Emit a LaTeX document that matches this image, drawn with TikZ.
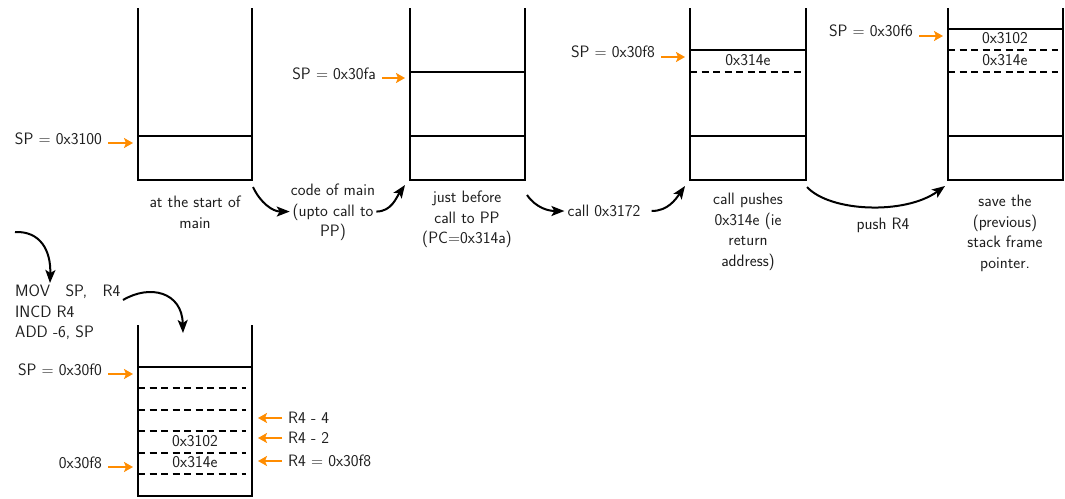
\documentclass[tikz,border=0pt]{standalone}
\usetikzlibrary{arrows.meta}
\definecolor{ptrorange}{RGB}{255,140,0}
\definecolor{ink}{RGB}{30,30,30}
\begin{document}
\begin{tikzpicture}[x=1pt,y=-1pt,
  font=\sffamily\fontsize{16.5}{20.5}\selectfont,
  wall/.style={line width=2pt,line join=miter},
  cell/.style={line width=1.8pt},
  slot/.style={line width=1.8pt,dash pattern=on 7pt off 4.5pt},
  lbl/.style={text=ink,inner sep=0pt},
  captext/.style={text=ink,inner sep=0pt,align=center,anchor=north},
  ptr/.style={draw=ptrorange,line width=2.8pt,-{Stealth[length=9pt,width=10pt,inset=2pt]}},
  flow/.style={draw=black,line width=2pt,-{Stealth[length=13pt,width=10pt,inset=3pt]}}]
\useasboundingbox (0,0) rectangle (1065,498);

% ---- stack 1: start of main
\draw[wall] (138,8) -- (138,180) -- (252,180) -- (252,8);
\draw[cell] (138,136) -- (252,136);
\node[lbl,anchor=east] (sp1) at (102,139) {SP = 0x3100};
\coordinate (sp1t) at (133,143);
\draw[ptr] ([shift={(6,4)}]sp1.east) -- (sp1t);
\node[captext] (c1) at (195,196) {at the start of\\main};

% ---- stack 2: just before call
\draw[wall] (410,8) -- (410,180) -- (525,180) -- (525,8);
\draw[cell] (410,72) -- (525,72);
\draw[cell] (410,136) -- (525,136);
\node[lbl,anchor=east] (sp2) at (376,74) {SP = 0x30fa};
\coordinate (sp2t) at (405,78);
\draw[ptr] ([shift={(6,4)}]sp2.east) -- (sp2t);
\node[captext] (c2) at (467,191) {just before\\call to PP\\(PC=0x314a)};

% ---- stack 3: after call
\draw[wall] (690,8) -- (690,180) -- (806,180) -- (806,8);
\draw[cell] (690,50) -- (806,50);
\draw[slot] (690,72) -- (801,72);
\draw[cell] (690,136) -- (806,136);
\node[lbl] (v31) at (748,60) {0x314e};
\node[lbl,anchor=east] (sp3) at (655,52) {SP = 0x30f8};
\coordinate (sp3t) at (685,57);
\draw[ptr] ([shift={(6,5)}]sp3.east) -- (sp3t);
\node[captext] (c3) at (748,193) {call pushes\\0x314e (ie\\return\\address)};

% ---- stack 4: after push R4
\draw[wall] (948,8) -- (948,180) -- (1063,180) -- (1063,8);
\draw[cell] (948,29) -- (1063,29);
\draw[slot] (948,50) -- (1058,50);
\draw[slot] (948,72) -- (1058,72);
\draw[cell] (948,136) -- (1063,136);
\node[lbl] (v41) at (1005,38) {0x3102};
\node[lbl] (v42) at (1005,60) {0x314e};
\node[lbl,anchor=east] (sp4) at (913,31) {SP = 0x30f6};
\coordinate (sp4t) at (943,36);
\draw[ptr] ([shift={(6,5)}]sp4.east) -- (sp4t);
\node[captext] (c4) at (1005,195) {save the\\(previous)\\stack frame\\pointer.};

% ---- transitions between stacks
\node[captext,inner sep=1pt] (t1) at (333,183) {code of main\\(upto call to\\PP)};
\coordinate (t1a) at (253,187);
\coordinate (t1b) at (405,185);
\draw[flow] (t1a) to[out=-65,in=180] ([yshift=1pt]t1.west);
\draw[flow] ([yshift=1pt]t1.east) to[out=0,in=-125] (t1b);

\node[lbl,inner sep=3pt] (t2) at (604,211) {call 0x3172};
\coordinate (t2a) at (527,195);
\coordinate (t2b) at (685,186);
\draw[flow] (t2a) to[out=-55,in=180] (t2.west);
\draw[flow] ([xshift=8pt]t2.east) to[out=0,in=-125] (t2b);

\coordinate (t3a) at (807,187);
\coordinate (t3b) at (945,186);
\draw[flow] (t3a) .. controls (830,212) and (905,215) .. (t3b);
\node[lbl] (t3) at (883,225) {push R4};

% ---- prologue of PP
\coordinate (p0) at (15,232);
\node[lbl,anchor=north west,align=left] (code) at (15,285)
  {MOV\ \ \ SP,\ \ \ R4\\INCD R4\\ADD -6, SP};
\coordinate (p1) at (50,283);
\draw[flow] (p0) .. controls (40,231) and (51,250) .. (p1);
\coordinate (p2) at (123,300);
\coordinate (p3) at (183,333);
\draw[flow] (p2) .. controls (150,284) and (182,292) .. (p3);

% ---- stack 5: PP frame
\draw[wall] (138,325) -- (138,496) -- (252,496) -- (252,325);
\draw[cell] (138,367) -- (252,367);
\foreach \yy in {388,410,431,453,474}
  \draw[slot] (138,\yy) -- (246,\yy);
\node[lbl] (v51) at (195,441) {0x3102};
\node[lbl] (v52) at (195,462) {0x314e};
\node[lbl,anchor=east] (sp5) at (102,370) {SP = 0x30f0};
\coordinate (sp5t) at (133,374);
\draw[ptr] ([shift={(6,4)}]sp5.east) -- (sp5t);
\node[lbl,anchor=east] (f5) at (102,463) {0x30f8};
\coordinate (f5t) at (133,467);
\draw[ptr] ([shift={(6,4)}]f5.east) -- (f5t);

\node[lbl,anchor=west] (r4a) at (288,418) {R4 - 4};
\node[lbl,anchor=west] (r4b) at (288,438) {R4 - 2};
\node[lbl,anchor=west] (r4c) at (288,461) {R4 = 0x30f8};
\coordinate (r4at) at (258,418);
\coordinate (r4bt) at (258,438);
\coordinate (r4ct) at (258,461);
\draw[ptr] ([xshift=-6pt]r4a.west) -- (r4at);
\draw[ptr] ([xshift=-6pt]r4b.west) -- (r4bt);
\draw[ptr] ([xshift=-6pt]r4c.west) -- (r4ct);
\end{tikzpicture}
\end{document}
